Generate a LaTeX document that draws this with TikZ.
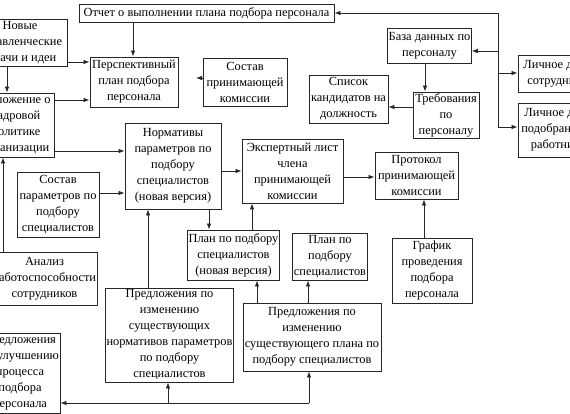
\documentclass[tikz,border=0pt]{standalone}
\usepackage{fontspec}
\setmainfont{Liberation Serif}
\usetikzlibrary{arrows.meta}
\newcommand\fsz{\fontsize{12.4}{16}\selectfont}
\tikzset{
 box/.style={draw=black!85, line width=0.95pt, fill=white, align=center, inner sep=1pt, font=\fsz},
 arr/.style={draw=black!85, line width=0.8pt, -{Latex[length=6pt,width=4.5pt]}},
 ln/.style={draw=black!85, line width=0.8pt}
}
\begin{document}
\begin{tikzpicture}[x=1pt,y=-1pt]
\useasboundingbox (0,0) rectangle (570,414);
\clip (0,0) rectangle (570,414);
\fill[white] (0,0) rectangle (570,414);
% boxes
\node[box, minimum width=94, minimum height=47] (novye) at (20,42.5) {Новые\\управленческие\\задачи и идеи};
\node[box, minimum width=255, minimum height=18] (otchet) at (206.5,13) {Отчет о выполнении плана подбора персонала};
\node[box, minimum width=88, minimum height=50] (persp) at (134,82) {Перспективный\\план подбора\\персонала};
\node[box, minimum width=84, minimum height=48] (skom) at (245,82) {Состав\\принимающей\\комиссии};
\node[box, minimum width=81, minimum height=35] (baza) at (429.5,45.5) {База данных по\\персоналу};
\node[box, minimum width=79, minimum height=48] (spisok) at (348.5,99) {Список\\кандидатов на\\должность};
\node[box, minimum width=66, minimum height=46] (treb) at (446,115) {Требования\\по\\персоналу};
\node[box, minimum width=78, minimum height=37] (lich1) at (557,73.5) {Личное дело\\сотрудника};
\node[box, minimum width=80, minimum height=54] (lich2) at (558,130) {Личное дело\\подобранного\\работника};
\node[box, minimum width=76, minimum height=64] (polozh) at (16,125) {Положение о\\кадровой\\политике\\организации};
\node[box, minimum width=82, minimum height=65] (spar) at (58,204.5) {Состав\\параметров по\\подбору\\специалистов};
\node[box, minimum width=105, minimum height=53] (analiz) at (44.5,278.5) {Анализ\\работоспособности\\сотрудников};
\node[box, minimum width=96, minimum height=86] (norm) at (173,166) {Нормативы\\параметров по\\подбору\\специалистов\\(новая версия)};
\node[box, minimum width=101, minimum height=64] (ekspert) at (292.5,171) {Экспертный лист\\члена\\принимающей\\комиссии};
\node[box, minimum width=83, minimum height=47] (protokol) at (416.5,175.5) {Протокол\\принимающей\\комиссии};
\node[box, minimum width=80, minimum height=65] (grafik) at (432,270.5) {График\\проведения\\подбора\\персонала};
\node[box, minimum width=91, minimum height=50] (plannew) at (233.5,255) {План по подбору\\специалистов\\(новая версия)};
\node[box, minimum width=74, minimum height=47] (plan) at (330,256.5) {План по\\подбору\\специалистов};
\node[box, minimum width=138, minimum height=68] (predplan) at (312,337) {Предложения по\\изменению\\существующего плана по\\подбору специалистов};
\node[box, minimum width=125, minimum height=94] (prednorm) at (169.5,335) {Предложения по\\изменению\\существующих\\нормативов параметров\\по подбору\\специалистов};
\node[box, minimum width=80, minimum height=80] (predul) at (20,373) {Предложения\\по улучшению\\процесса\\подбора\\персонала};
% connectors
\draw[arr] (otchet.south -| 133,0) -- (persp.north -| 133,0);
\draw[arr] (novye.east |- 0,62) -- (persp.west |- 0,62);
\draw[arr] (novye.south -| 7,0) -- (polozh.north -| 7,0);
\draw[arr] (polozh.east |- 0,100) -- (persp.west |- 0,100);
\draw[arr] (polozh.east |- 0,151) -- (norm.west |- 0,151);
\coordinate (skomEnd) at (196,78);
\draw[arr] (skom.west |- skomEnd) -- (skomEnd);
\draw[arr] (spar.east |- 0,193) -- (norm.west |- 0,193);
\draw[arr] (analiz.north -| 3,0) -- (polozh.south -| 3,0);
\draw[arr] (norm.east |- 0,171) -- (ekspert.west |- 0,171);
\draw[arr] (ekspert.east |- 0,177) -- (protokol.west |- 0,177);
\draw[arr] (grafik.north -| 424,0) -- (protokol.south -| 424,0);
\draw[arr] (norm.south -| 209,0) -- (plannew.north -| 209,0);
\draw[arr] (plannew.north -| 252,0) -- (ekspert.south -| 252,0);
\draw[arr] (prednorm.north -| 148,0) -- (norm.south -| 148,0);
\draw[arr] (predplan.north -| 257,0) -- (plannew.south -| 257,0);
\draw[arr] (predplan.north -| 308,0) -- (plan.south -| 308,0);
% bottom bus
\coordinate (jR) at (309,403);
\coordinate (jM) at (168,403);
\draw[arr] (jR) -- (predul.east |- jR);
\draw[arr] (jR) -- (predplan.south -| jR);
\draw[arr] (jM) -- (prednorm.south -| jM);
% right bus
\coordinate (vT) at (498,13);
\coordinate (vB) at (498,127);
\coordinate (vBaza) at (498,51);
\coordinate (vL1) at (498,73);
\draw[ln] (vT) -- (vB);
\draw[arr] (vT) -- (otchet.east |- vT);
\draw[arr] (vBaza) -- (baza.east |- vBaza);
\draw[arr] (vL1) -- (lich1.west |- vL1);
\draw[arr] (vB) -- (lich2.west |- vB);
\draw[arr] (baza.south -| 425,0) -- (treb.north -| 425,0);
\draw[arr] (treb.west |- 0,107) -- (spisok.east |- 0,107);
\end{tikzpicture}
\end{document}
